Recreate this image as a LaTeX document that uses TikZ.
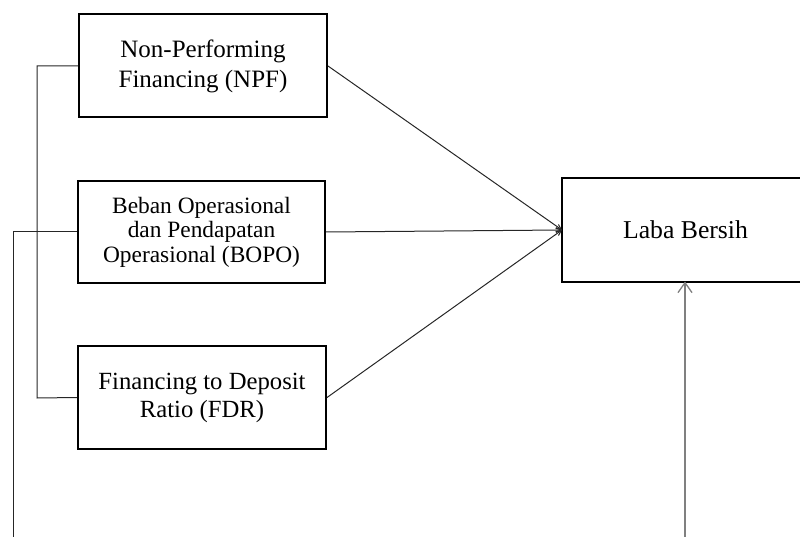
\documentclass[tikz,border=0pt]{standalone}
\usepackage{fontspec}
\setmainfont{Liberation Serif}
\usetikzlibrary{arrows.meta}
\begin{document}
\begin{tikzpicture}[x=1pt,y=-1pt,
  box/.style={draw=black,line width=2pt,rectangle,inner sep=0pt,align=center},
  conn/.style={draw=black!85,line width=1pt},
  inarrow/.style={conn,-{Straight Barb[length=5pt,width=5pt]}},
  grayarrow/.style={draw=black!50,line width=1.6pt,-{Straight Barb[length=10pt,width=14pt,line width=1.3pt]}}]
\useasboundingbox (0,0) rectangle (800,537);
\clip (0,0) rectangle (800,537);
\node[box,minimum width=248pt,minimum height=103pt,font=\fontsize{25}{30}\selectfont] (npf) at (203,66) {Non-Performing\\Financing (NPF)};
\node[box,minimum width=247pt,minimum height=102pt,font=\fontsize{23.4}{24.5}\selectfont] (bopo) at (201.5,232) {Beban Operasional\\dan Pendapatan\\Operasional (BOPO)};
\node[box,minimum width=248pt,minimum height=103pt,font=\fontsize{24.7}{28}\selectfont] (fdr) at (202,397.5) {Financing to Deposit\\Ratio (FDR)};
\node[box,minimum width=247pt,minimum height=103pt,font=\fontsize{25.7}{30}\selectfont] (laba) at (685.5,230) {Laba Bersih};
\coordinate (lm) at (562,230);
\coordinate (lb) at (685,281.5);
\coordinate (gb) at (685,540);
\coordinate (c1) at (37,66);
\coordinate (c2) at (37,398);
\coordinate (c3) at (13,232);
\coordinate (c4) at (13,540);
\draw[conn] (npf.west) -- (c1) -- (c2) -- (fdr.west);
\draw[conn] (bopo.west) -- (c3) -- (c4);
\draw[inarrow] (npf.east) -- (lm);
\draw[inarrow] (bopo.east) -- (lm);
\draw[inarrow] (fdr.east) -- (lm);
\draw[grayarrow] (gb) -- (lb);
\end{tikzpicture}
\end{document}
